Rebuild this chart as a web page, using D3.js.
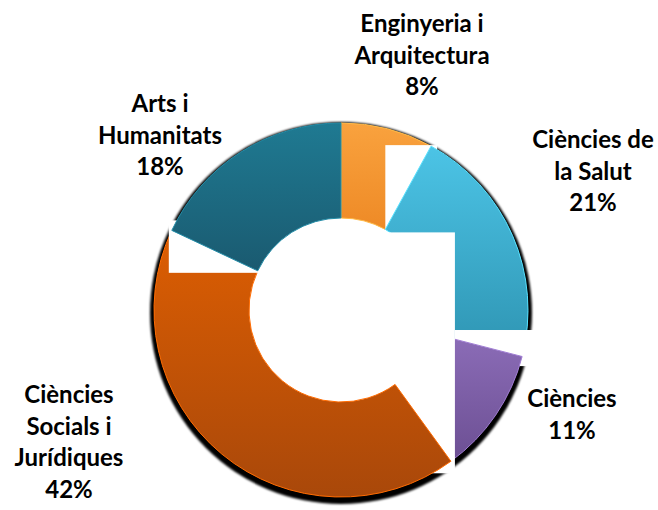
<!DOCTYPE html>
<html>
<head>
<meta charset="utf-8">
<script src="https://cdn.jsdelivr.net/npm/d3@7"></script>
<style>
  html, body { margin: 0; padding: 0; background: #fff; }
  svg { display: block; }
  text { font-family: Lato, "Open Sans", sans-serif; font-weight: bold; fill: #000; }
</style>
</head>
<body>
<svg id="chart" width="658" height="510"></svg>
<script>
// ---- data ----
const categories = ["Enginyeria i Arquitectura", "Ciències de la Salut", "Ciències", "Ciències Socials i Jurídiques", "Arts i Humanitats"];
const values = [8, 21, 11, 42, 18];
const labelLines = [["Enginyeria i", "Arquitectura"], ["Ciències de", "la Salut"], ["Ciències"], ["Ciències", "Socials i", "Jurídiques"], ["Arts i", "Humanitats"]];
const colorsTop = ["#F9A23E", "#4CC4E6", "#8C6DB8", "#DD5E02", "#1F7A92"];
const colorsBottom = ["#EE8A26", "#2E94B2", "#6C4F93", "#A9480A", "#1A5A70"];

// ---- layout ----
const W = 658, H = 510;
const cx = 341, cy = 310, R = 187, r = 92;
const fontSize = 24, lineH = 31.5;
// label anchor: center x and first baseline
const labelPos = [[422, 32], [593, 148], [572, 407], [69, 403], [160, 112]];

const svg = d3.select("#chart");
const defs = svg.append("defs");

const pie = d3.pie().sort(null).value(d => d.v).startAngle(0).endAngle(2 * Math.PI);
const data = categories.map((c, i) => ({ c, v: values[i], i }));
const arcs = pie(data);
const arc = d3.arc().innerRadius(r).outerRadius(R);

arcs.forEach((a, i) => {
  const g = defs.append("linearGradient").attr("id", "grad" + i)
    .attr("x1", 0).attr("y1", 0).attr("x2", 0).attr("y2", 1);
  g.append("stop").attr("offset", "0%").attr("stop-color", colorsTop[i]);
  g.append("stop").attr("offset", "100%").attr("stop-color", colorsBottom[i]);
});

const f = defs.append("filter").attr("id", "blur").attr("x", "-10%").attr("y", "-10%").attr("width", "120%").attr("height", "120%");
f.append("feGaussianBlur").attr("stdDeviation", 1.2);

const root = svg.append("g").attr("transform", `translate(${cx},${cy})`);

// shadow ring
root.append("path")
  .attr("d", d3.arc().innerRadius(R - 10).outerRadius(R + 4)({ startAngle: 0, endAngle: 2 * Math.PI }))
  .attr("transform", "translate(0,3)")
  .attr("fill", "#000")
  .attr("filter", "url(#blur)");

// helper: boundary points of slices
function pt(angle, rad) { return [rad * Math.sin(angle), -rad * Math.cos(angle)]; }

function drawSlice(i) {
  root.append("path")
    .attr("d", arc(arcs[i]))
    .attr("fill", `url(#grad${i})`)
    .attr("stroke", d3.color(colorsTop[i]).brighter(0.4))
    .attr("stroke-width", 1);
}
function whiteBox(x0, y0, x1, y1) {
  root.append("rect")
    .attr("x", Math.min(x0, x1)).attr("y", Math.min(y0, y1))
    .attr("width", Math.abs(x1 - x0)).attr("height", Math.abs(y1 - y0))
    .attr("fill", "#fff");
}

// rendering order mimics the original (label boxes overlapping slices)
const e0 = arcs[0].endAngle, e2 = arcs[2].endAngle, e3 = arcs[3].endAngle;
drawSlice(0);
whiteBox(pt(e0, r)[0], pt(e0, R)[1] - 1, pt(e0, R)[0] + 6, pt(e0, r)[1] + 2);
drawSlice(1);
whiteBox(pt(e2, R)[0] + 4, R * 0.107, R + 8, R * 0.3);
drawSlice(2);
whiteBox(pt(e0, r)[0] - 6, pt(e0, r)[1] + 3, pt(e2, R)[0] + 4, pt(e2, R)[1] + 12);
drawSlice(3);
whiteBox(pt(e3, R)[0] - 3, pt(e3, R)[1] - 10, pt(e3, r)[0] + 4, pt(e3, r)[1] + 2);
drawSlice(4);

// labels
arcs.forEach((a, i) => {
  const [lx, ly] = labelPos[i];
  const t = svg.append("text").attr("text-anchor", "middle").attr("font-size", fontSize);
  const lines = labelLines[i].concat([Math.round(values[i]) + "%"]);
  lines.forEach((ln, k) => {
    t.append("tspan").attr("x", lx).attr("y", ly + k * lineH).text(ln);
  });
});
</script>
</body>
</html>
